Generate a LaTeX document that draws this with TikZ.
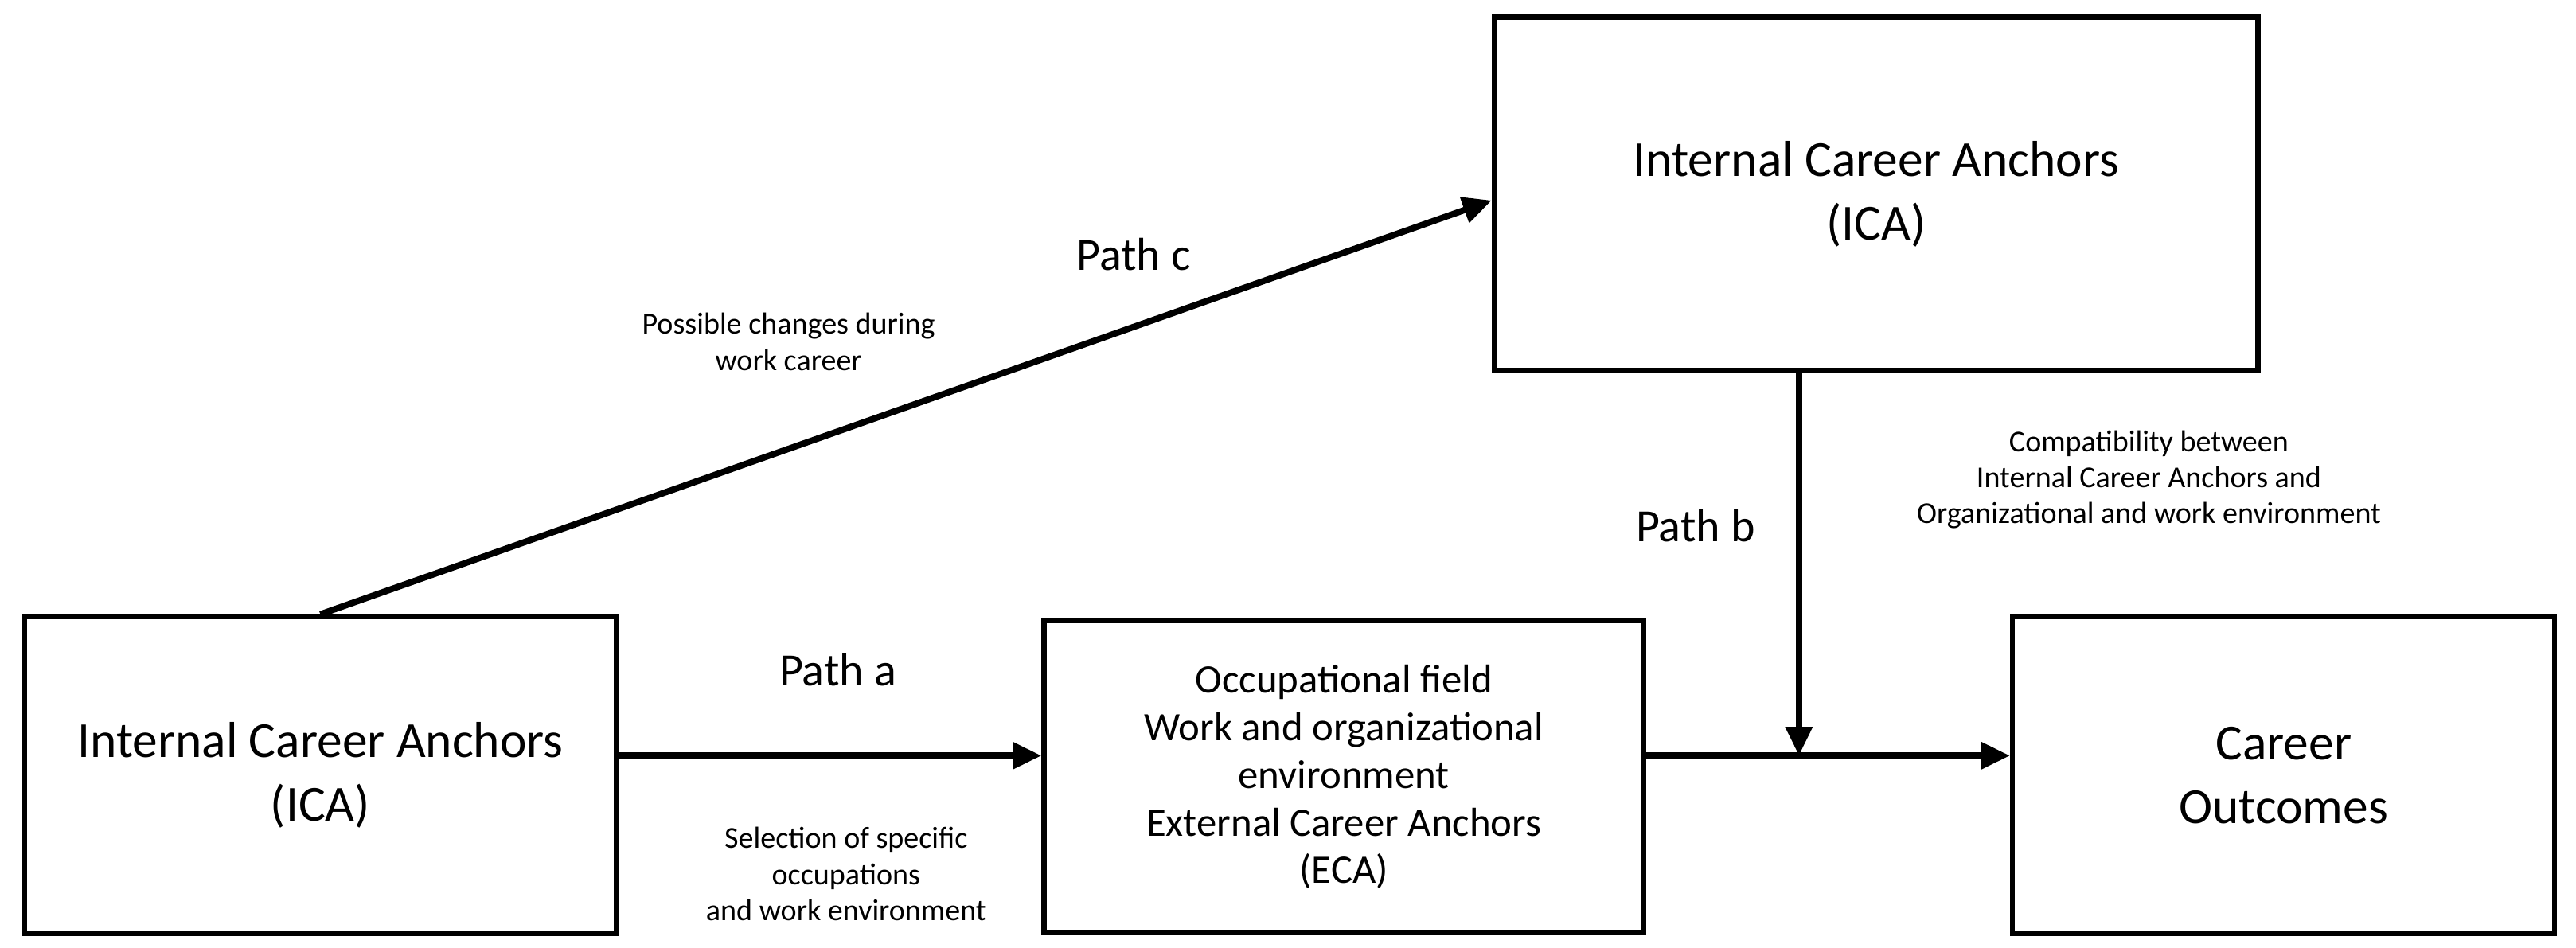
\documentclass[tikz,border=0pt]{standalone}
\usepackage{fontspec}
\setmainfont{Carlito}
\usetikzlibrary{arrows.meta}
\begin{document}
\begin{tikzpicture}[x=0.02cm,y=-0.02cm,
    box/.style={draw,line width=1.8pt,align=center,inner sep=0pt},
    conn/.style={line width=2.2pt,-{Triangle[length=10pt,width=9pt]}},
    lab/.style={align=center,font=\fontsize{10.5}{12.5}\selectfont},
    pathlab/.style={font=\fontsize{16}{19}\selectfont}]
    % Canvas
    \useasboundingbox (0,0) rectangle (1568,577);

    % Boxes
    \node[box,minimum width=7.2cm,minimum height=3.86cm,font=\fontsize{17.5}{22}\selectfont] (icaleft) at (195,472) {Internal Career Anchors\\(ICA)};
    \node[box,minimum width=7.3cm,minimum height=3.8cm,font=\fontsize{14}{16.5}\selectfont] (env) at (818,473) {Occupational field\\Work and organizational\\environment\\External Career Anchors\\(ECA)};
    \node[box,minimum width=9.3cm,minimum height=4.3cm,font=\fontsize{17.5}{22}\selectfont] (icatop) at (1142,118) {Internal Career Anchors\\(ICA)};
    \node[box,minimum width=6.6cm,minimum height=3.86cm,font=\fontsize{17.5}{22}\selectfont] (outcome) at (1390,472) {Career\\Outcomes};

    % Connectors
    \coordinate (join) at (1095,460);
    \draw[conn] (icaleft.east |- 0,460) -- (env.west |- 0,460);
    \draw[conn] (icaleft.north) -- (icatop.west |- 0,122);
    \draw[conn] (env.east |- 0,460) -- (outcome.west |- 0,460);
    \draw[conn] (icatop.south -| join) -- (join);

    % Labels
    \node[pathlab] (pa) at (510,408) {Path a};
    \node[lab] (sel) at (515,532) {Selection of specific\\occupations\\and work environment};
    \node[pathlab] (pc) at (690,155) {Path c};
    \node[lab] (chg) at (480,208) {Possible changes during\\work career};
    \node[pathlab] (pb) at (1032,320) {Path b};
    \node[lab] (comp) at (1308,292) {Compatibility between\\Internal Career Anchors and\\Organizational and work environment};
\end{tikzpicture}
\end{document}
